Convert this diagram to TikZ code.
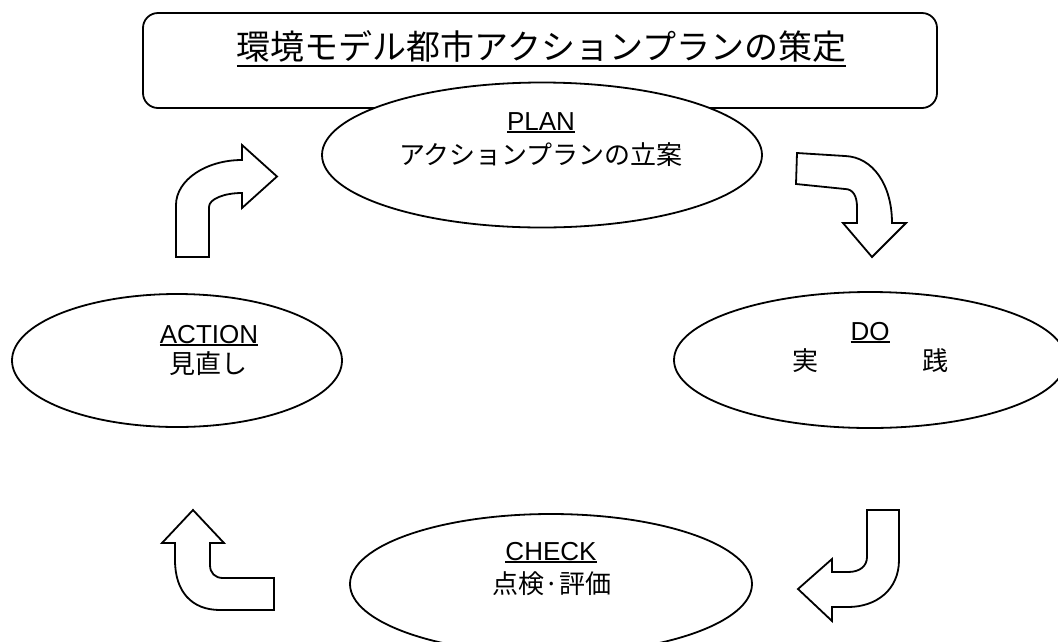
\documentclass[tikz,border=0pt]{standalone}
\usepackage{fontspec}
\setmainfont{Liberation Sans}
\newfontfamily\jp{Noto Sans CJK JP}
\usetikzlibrary{shapes.geometric}
\newcommand{\myul}[2]{\setbox0=\hbox{#2}\rlap{\rule[-#1]{\wd0}{1.8pt}}\box0}
\begin{document}
\begin{tikzpicture}[x=1pt,y=-1pt, line width=1.8pt,
  ell/.style={draw, ellipse, fill=white, inner sep=0pt},
  bendarrow/.style={draw, fill=white, line join=miter},
  lat/.style={font=\fontsize{26}{26}\selectfont, inner sep=0pt, anchor=base},
  cjk/.style={font=\jp\fontsize{26}{26}\selectfont, inner sep=0pt, anchor=base}]
\useasboundingbox (0,0) rectangle (1058,641);
\clip (0,0) rectangle (1058,641);
\fill[white] (0,0) rectangle (1058,641);
% title box
\node[draw, rounded corners=15pt, minimum width=794pt, minimum height=95pt, inner sep=0pt] (box) at (540,60.5) {};
\node[font=\jp\fontsize{34}{34}\selectfont, inner sep=0pt, anchor=base] (title) at (541.5,59) {\myul{8pt}{環境モデル都市アクションプランの策定}};
% ellipses
\node[ell, minimum width=440pt, minimum height=145pt] (plan) at (542,155) {};
\node[ell, minimum width=330pt, minimum height=133pt] (action) at (177,360.5) {};
\node[ell, minimum width=392pt, minimum height=136pt] (do) at (870,360) {};
\node[ell, minimum width=402pt, minimum height=140pt] (check) at (551,584) {};
% labels
\node[lat] (planT) at (541,130) {\myul{3pt}{PLAN}};
\node[cjk] (planJ) at (541,164) {アクションプランの立案};
\node[lat] (actionT) at (209,343) {\myul{3pt}{ACTION}};
\node[cjk] (actionJ) at (208,373.5) {見直し};
\node[lat] (doT) at (870,340) {\myul{3pt}{DO}};
\node[cjk] (doJ) at (870,370) {実\hspace{4em}践};
\node[lat] (checkT) at (551,560) {\myul{3pt}{CHECK}};
\node[cjk] (checkJ) at (552,593.5) {点検·評価};
% bent arrows
\draw[bendarrow] (176,257) -- (209,257) -- (209,207) .. controls (209,199) and (224,193) .. (242,193) -- (242,208) -- (277,176.5) -- (242,145) -- (242,160) .. controls (206,160) and (176,180) .. (176,205) -- cycle;
\draw[bendarrow] (797,153) -- (845,156) .. controls (873,157) and (892,185) .. (892,223) -- (906,223) -- (872,257) -- (843,223) -- (857,223) -- (857,207) .. controls (857,196) and (853,189) .. (845,189) -- (796,184) -- cycle;
\draw[bendarrow] (867,510) -- (899,510) -- (899,560) .. controls (899,590) and (876,607) .. (848,607) -- (832,607) -- (832,621) -- (798,589) -- (832,559) -- (832,572) -- (848,572) .. controls (860,572) and (867,566) .. (867,557) -- cycle;
\draw[bendarrow] (274,578) -- (274,610) -- (220,610) .. controls (192,610) and (175,592) .. (175,560) -- (175,543) -- (162,543) -- (193,510) -- (224,543) -- (210,543) -- (210,565) .. controls (210,573) and (215,578) .. (223,578) -- cycle;
\end{tikzpicture}
\end{document}
